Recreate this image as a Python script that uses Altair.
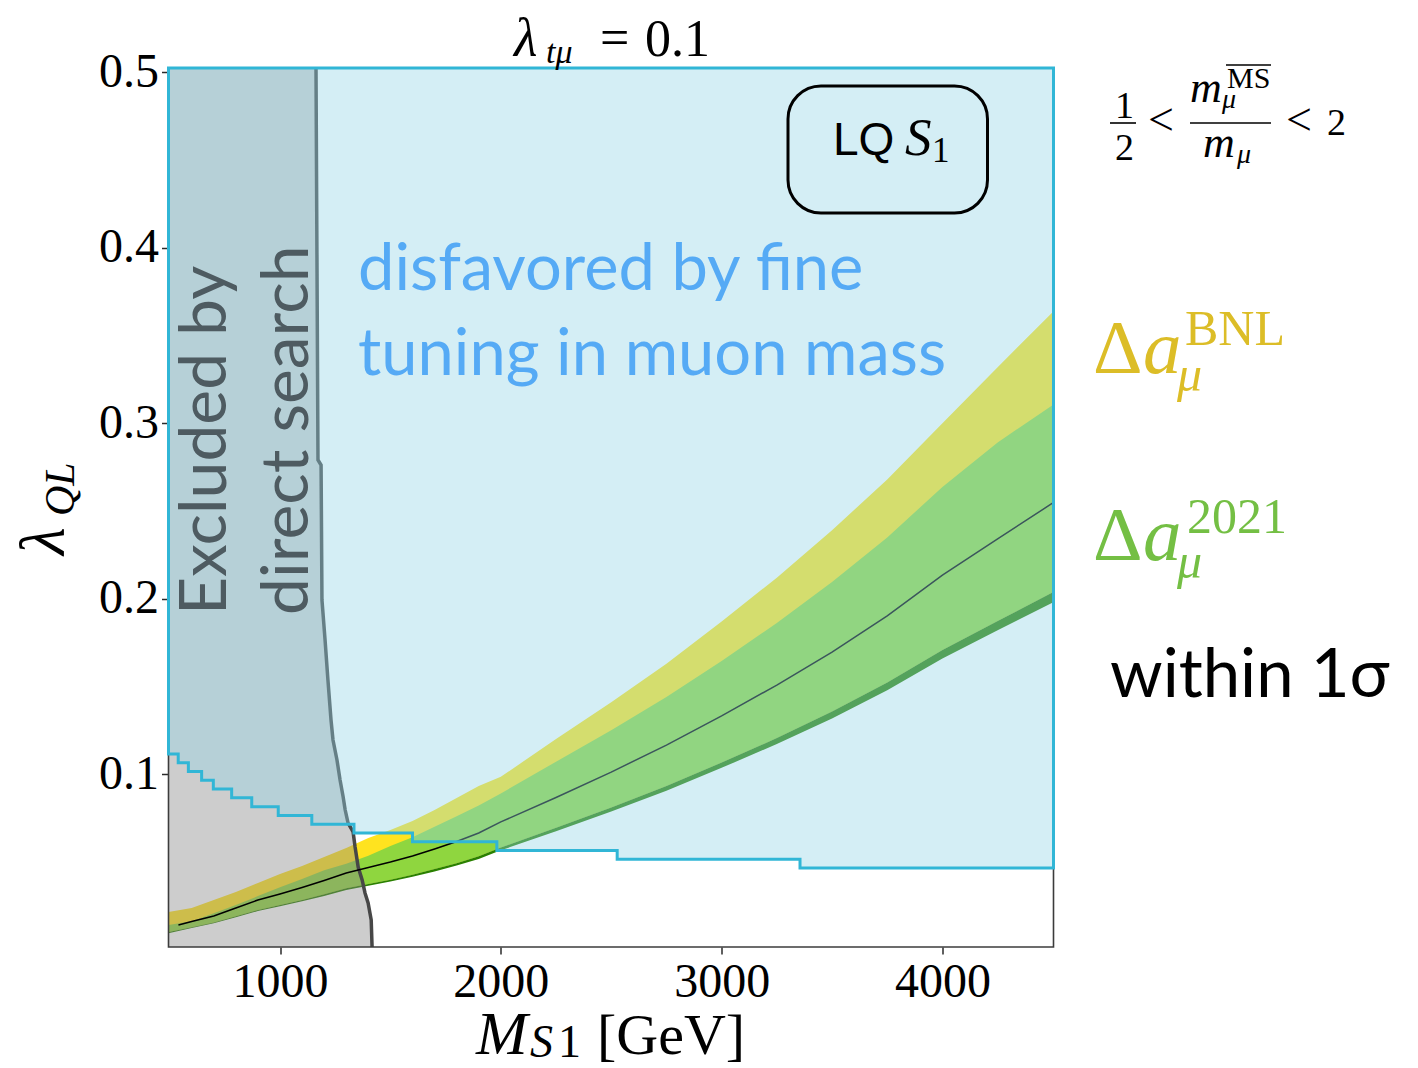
import altair as alt
import pandas as pd

# ---------------- data ----------------
# band samples (M in GeV, lambda_QL)
band_M = [495, 600, 700, 800, 900, 1000, 1100, 1200, 1300, 1400, 1500, 1600, 1700,
          1800, 1900, 2000, 2250, 2500, 2750, 3000, 3250, 3500, 3750, 4000, 4250, 4500]
bnl_upper = [0.0215, 0.0237, 0.0283, 0.0329, 0.0380, 0.0431, 0.0477, 0.0528, 0.0579,
             0.0636, 0.0682, 0.0733, 0.0796, 0.0864, 0.0933, 0.0985, 0.1200, 0.1410,
             0.1630, 0.1870, 0.2120, 0.2390, 0.2680, 0.3000, 0.3320, 0.3634]
a2021_upper = [0.0140, 0.0162, 0.0208, 0.0254, 0.0305, 0.0356, 0.0402, 0.0453, 0.0490,
               0.0535, 0.0590, 0.0640, 0.0700, 0.0760, 0.0821, 0.0890, 0.1071, 0.1250,
               0.1440, 0.1645, 0.1862, 0.2095, 0.2349, 0.2637, 0.2891, 0.3104]
bnl_lower = [0.0100, 0.0128, 0.0154, 0.0190, 0.0226, 0.0254, 0.0283, 0.0315, 0.0350,
             0.0374, 0.0399, 0.0427, 0.0459, 0.0493, 0.0532, 0.0582, 0.0694, 0.0810,
             0.0933, 0.1066, 0.1206, 0.1357, 0.1522, 0.1708, 0.1873, 0.2037]
a2021_lower = [0.0094, 0.0124, 0.0150, 0.0184, 0.0220, 0.0247, 0.0276, 0.0306, 0.0340,
               0.0364, 0.0388, 0.0415, 0.0446, 0.0479, 0.0517, 0.0566, 0.0675, 0.0787,
               0.0906, 0.1036, 0.1172, 0.1318, 0.1479, 0.1660, 0.1820, 0.1979]

# central value line
center_M = [540, 600, 700, 800, 900, 1000, 1100, 1200, 1300, 1400, 1500, 1600, 1700,
            1800, 1900, 2000, 2250, 2500, 2750, 3000, 3250, 3500, 3750, 4000, 4250, 4500]
center_lam = [0.0140, 0.0160, 0.0192, 0.0237, 0.0283, 0.0317, 0.0354, 0.0394, 0.0437,
              0.0468, 0.0499, 0.0534, 0.0574, 0.0616, 0.0665, 0.0728, 0.0867, 0.1012,
              0.1166, 0.1332, 0.1508, 0.1696, 0.1902, 0.2135, 0.2341, 0.2546]

# fine-tuning bound (stepped lower edge of the disfavored region)
ft_M = [495, 539, 585, 645, 698, 781, 872, 992, 1144, 1335, 1600, 1982, 2527, 3355, 4503]
ft_lam = [0.1115, 0.1065, 0.1015, 0.0965, 0.0915, 0.0865, 0.0815, 0.0765, 0.0715,
          0.0665, 0.0615, 0.0565, 0.0515, 0.0465, 0.0465]

# direct-search exclusion boundary
ds_M = [1417, 1413, 1399, 1385, 1372, 1354, 1340, 1331, 1308, 1295, 1286, 1272, 1258,
        1240, 1231, 1217, 1204, 1190, 1186, 1172, 1163]
ds_lam = [0.0015, 0.0169, 0.0266, 0.0323, 0.0397, 0.0471, 0.0585, 0.0671, 0.0722,
          0.0797, 0.0870, 0.0967, 0.1081, 0.1195, 0.1309, 0.1537, 0.1765, 0.1993,
          0.2762, 0.2791, 0.5025]

x_ticks = [1000, 2000, 3000, 4000]
y_ticks = [0.1, 0.2, 0.3, 0.4, 0.5]
X_MIN, X_MAX = 495, 4503
Y_MIN, Y_MAX = 0.0015, 0.5025

# ---------------- chart ----------------
W, H = 885, 879
xs = alt.Scale(domain=[X_MIN, X_MAX], nice=False, zero=False)
ys = alt.Scale(domain=[Y_MIN, Y_MAX], nice=False, zero=False)
SERIF = "Liberation Serif"
SANS = "Lato"

xax = alt.Axis(values=x_ticks, format="d", title=None, grid=False, domain=False,
               tickSize=7, tickWidth=1.5, tickColor="#2a2a2a", labelFont=SERIF,
               labelFontSize=48, labelColor="black", labelPadding=4,
               labelFlush=False, labelOverlap=False)
yax = alt.Axis(values=y_ticks, format=".1f", title=None, grid=False, domain=False,
               tickSize=7, tickWidth=1.5, tickColor="#2a2a2a", labelFont=SERIF,
               labelFontSize=48, labelColor="black", labelPadding=3,
               labelFlush=False, labelOverlap=False)

band = pd.DataFrame({"M": band_M, "ub": bnl_upper, "u21": a2021_upper,
                     "lb": bnl_lower, "l21": a2021_lower})
center = pd.DataFrame({"M": center_M, "lam": center_lam})
ft = pd.DataFrame({"M": ft_M, "lam": ft_lam})
ds = pd.DataFrame({"M": ds_M, "lam": ds_lam, "i": list(range(len(ds_M)))})
one = pd.DataFrame({"t": [""]})

X = alt.X("M:Q", scale=xs, axis=xax)


def band_layer(lo, hi, col):
    return alt.Chart(band).mark_area(color=col, opacity=1, clip=True).encode(
        x=X, y=alt.Y(f"{lo}:Q", scale=ys, axis=yax), y2=f"{hi}:Q")


yellow = band_layer("lb", "ub", "#ffe31f")
green = band_layer("lb", "u21", "#8fd63f")
dgreen = band_layer("l21", "lb", "#2a8000")

gray = alt.Chart(ds).mark_area(orient="horizontal", color="#878787", opacity=0.42,
                               clip=True).encode(
    y=alt.Y("lam:Q", scale=ys, axis=yax), x=X, x2=alt.datum(X_MIN))
gray_line = alt.Chart(ds).mark_line(color="#474747", strokeWidth=3.5, clip=True).encode(
    x=X, y=alt.Y("lam:Q", scale=ys, axis=yax), order="i:Q")
center_line = alt.Chart(center).mark_line(color="black", strokeWidth=1.5, clip=True).encode(
    x=X, y=alt.Y("lam:Q", scale=ys, axis=yax))

frame = alt.Chart(one).mark_rect(fillOpacity=0, stroke="#3c3c3c", strokeWidth=1.6).encode(
    x=alt.value(0), x2=alt.value(W), y=alt.value(0), y2=alt.value(H))

blue = alt.Chart(ft).mark_area(interpolate="step-after", fill="#94d4e6", fillOpacity=0.4,
                               stroke="#31b6d6", strokeWidth=3, strokeOpacity=1).encode(
    x=X, y=alt.Y("lam:Q", scale=ys, axis=yax), y2=alt.datum(Y_MAX))


def txt(s, x, y, size, font=SERIF, style="normal", color="black", angle=0):
    return alt.Chart(pd.DataFrame({"t": [s]})).mark_text(
        align="left", baseline="alphabetic", font=font, fontSize=size,
        fontStyle=style, color=color, angle=angle).encode(
        x=alt.value(x), y=alt.value(y), text="t:N")


def hbar(x1, x2, y, w=1.6):
    return alt.Chart(one).mark_rule(color="black", strokeWidth=w).encode(
        x=alt.value(x1), x2=alt.value(x2), y=alt.value(y))


GOLD = "#dcbd27"
GRN = "#74bf44"
texts = [
    # title
    txt("λ", 345.5, -12, 54, style="italic"),
    txt("tμ", 377.5, -5, 34, style="italic"),
    txt("=", 431.5, -13, 52),
    txt("0.1", 476.5, -12, 52),
    # x title
    txt("M", 307.5, 986, 62, style="italic"),
    txt("S", 361.5, 989, 46, style="italic"),
    txt("1", 389.5, 989, 46),
    txt("[GeV]", 428.5, 986, 58),
    # y title
    txt("λ", -104.5, 487, 64, style="italic", angle=270),
    txt("QL", -94.5, 448, 42, style="italic", angle=270),
    # region labels
    txt("disfavored by fine", 189.5, 222, 65, font=SANS, color="#55aaf5"),
    txt("tuning in muon mass", 189.5, 307, 65, font=SANS, color="#55aaf5"),
    txt("Excluded by", 57.5, 547, 66, font=SANS, color="#4e5b61", angle=270),
    txt("direct search", 139.5, 547, 66, font=SANS, color="#4e5b61", angle=270),
    # LQ box
    txt("LQ", 664.5, 87, 46, font="Liberation Sans"),
    txt("S", 736.5, 87, 53, style="italic"),
    txt("1", 763.5, 94, 35),
    # right-side legend texts
    txt("Δ", 924.5, 305, 77, color=GOLD),
    txt("a", 974.5, 305, 77, style="italic", color=GOLD),
    txt("BNL", 1016.5, 277, 50, color=GOLD),
    txt("μ", 1008.5, 323, 50, style="italic", color=GOLD),
    txt("Δ", 924.5, 492, 77, color=GRN),
    txt("a", 974.5, 492, 77, style="italic", color=GRN),
    txt("2021", 1018.5, 465, 50, color=GRN),
    txt("μ", 1008.5, 510, 50, style="italic", color=GRN),
    txt("within 1σ", 941.5, 629, 67, font=SANS),
    # formula top right
    txt("1", 946.5, 50, 38),
    txt("2", 946.5, 92, 38),
    txt("<", 979.5, 66.5, 46),
    txt("m", 1021.5, 34, 44, style="italic"),
    txt("μ", 1053.5, 40, 28, style="italic"),
    txt("MS", 1058.5, 20, 30),
    txt("m", 1034.5, 89, 44, style="italic"),
    txt("μ", 1068.5, 95, 28, style="italic"),
    txt("<", 1117.5, 66.5, 46),
    txt("2", 1158.5, 67, 38),
    hbar(941.5, 967.5, 55),
    hbar(1021.5, 1102.5, 55),
    hbar(1057.5, 1102.5, -3, 1.3),
]

box = alt.Chart(one).mark_rect(fillOpacity=0, stroke="black", strokeWidth=3,
                               cornerRadius=33).encode(
    x=alt.value(619.5), x2=alt.value(819), y=alt.value(18), y2=alt.value(145))

chart = alt.layer(
    yellow, green, dgreen, gray, gray_line, center_line, frame, blue, box, *texts
).properties(
    width=W, height=H,
    autosize=alt.AutoSizeParams(type="none"),
    padding={"left": 160.5, "top": 60, "right": 345, "bottom": 121},
).configure_view(stroke="transparent")

chart.save("out.html", embed_options={"renderer": "svg", "actions": False})
